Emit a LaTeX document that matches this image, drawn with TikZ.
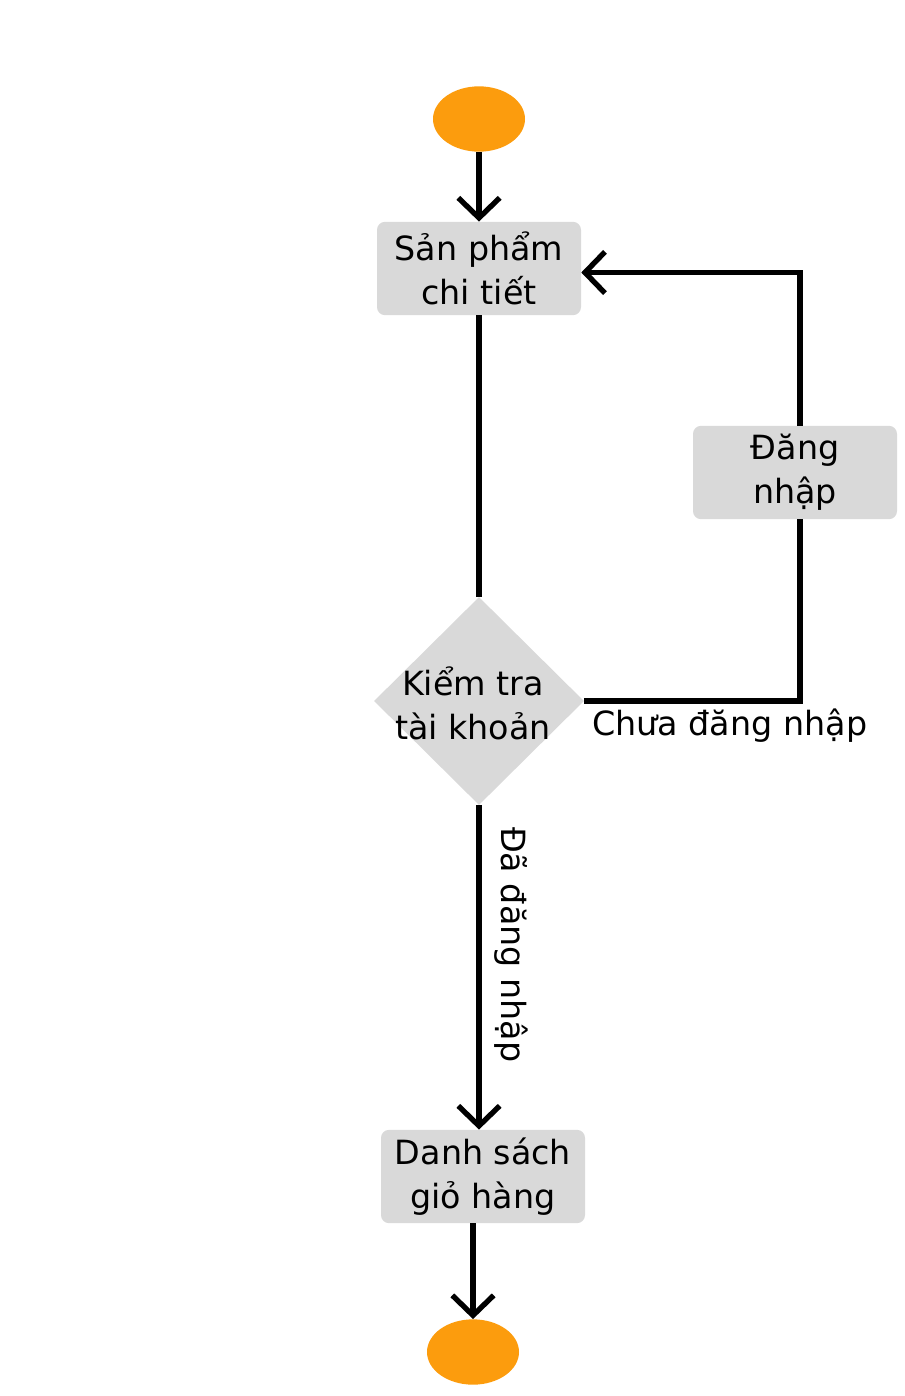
\documentclass[tikz,border=0pt]{standalone}
\usepackage{fontspec}
\setmainfont{DejaVu Sans}
\usepackage{tikz}
\usetikzlibrary{arrows.meta,positioning,shapes.geometric,calc}
\definecolor{termorange}{RGB}{252,156,13}
\definecolor{boxgray}{RGB}{217,217,217}

\begin{document}
\begin{tikzpicture}[
x=0.75pt,
y=0.75pt,
every node/.style={font=\fontsize{25}{33}\selectfont},
terminal/.style={ellipse,fill=termorange,minimum width=69pt,minimum height=49pt,inner sep=0pt},
activity/.style={rectangle,rounded corners=6pt,fill=boxgray,align=center,minimum width=153pt,minimum height=70pt,inner sep=0pt},
check/.style={diamond,fill=boxgray,minimum width=157.5pt,minimum height=156pt,inner sep=0pt},
arr/.style={-{Straight Barb[length=15pt,width=31pt]},line width=4pt},
link/.style={line width=4pt},
lbl/.style={inner sep=2pt}
]
\useasboundingbox (0,0) rectangle (905,-1396);
\node[terminal] (start) at (479,-119) {};
\node[activity] (sp) at (479,-268.5) {Sản phẩm\\chi tiết};
\node[check] (kt) at (479,-701) {};
\node[lbl,align=center] (kttext) at (473,-703) {Kiểm tra\\tài khoản};
\node[activity] (dn) at (795,-472.5) {Đăng\\nhập};
\node[activity] (ds) at (483,-1176.5) {Danh sách\\giỏ hàng};
\node[terminal] (stop) at (473,-1352) {};

\draw[arr] (start) -- (sp);
\draw[link] (sp) -- (kt);
\draw[link] (kt.east) -| node[lbl,pos=0,anchor=north west,xshift=2pt,yshift=-2pt]{Chưa đăng nhập} ([xshift=3.75pt]dn.south);
\draw[arr] ([xshift=3.75pt]dn.north) |- ([yshift=-3pt]sp.east);
\draw[arr] (kt) -- node[lbl,pos=0.43,rotate=-90,anchor=south,outer sep=10pt]{Đã đăng nhập} (kt |- ds.north);
\draw[arr] (ds.south -| stop) -- (stop);
\end{tikzpicture}
\end{document}
